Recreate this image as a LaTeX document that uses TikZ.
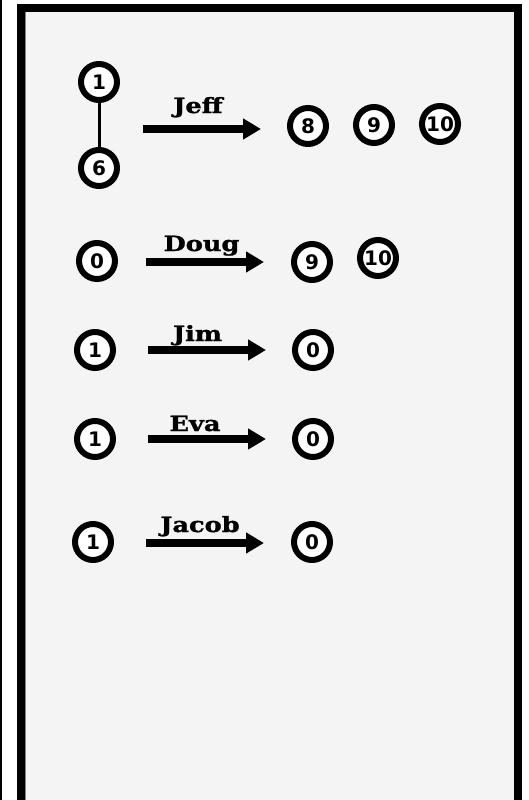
\documentclass[tikz,border=0pt]{standalone}
\usepackage{fontspec}
\usepackage{graphicx}
\usetikzlibrary{arrows.meta}
\newfontfamily\numfont{DejaVu Sans}
\newfontfamily\labfont{DejaVu Serif}[BoldFeatures={FakeBold=1.2}]
\definecolor{panel}{HTML}{F4F4F4}
\newcommand{\movetext}[1]{\scalebox{1.22}[1]{\labfont\bfseries\fontsize{21}{21}\selectfont #1}}
\tikzset{
  ball/.style={circle, draw=black, line width=6pt, fill=white, minimum size=36pt, inner sep=0pt, font=\numfont\bfseries\fontsize{20}{20}\selectfont},
  movearrow/.style={line width=7.5pt, -{Triangle[length=18pt,width=20pt]}},
  movelabel/.style={inner sep=0pt, anchor=base},
  tie/.style={line width=3pt}
}
\begin{document}
\begin{tikzpicture}[x=1pt,y=-1pt]
\useasboundingbox (0,0) rectangle (529,800);
\fill[white] (0,0) rectangle (529,800);
\draw[line width=2pt] (1,0) -- (1,800);
\draw[line width=8pt, fill=panel] (21,8) rectangle (518,812);
\draw[line width=0.8pt, gray] (25.4,12.4) -- (25.4,812);
% Row Jeff
\node[ball] (j1) at (99,82) {1};
\node[ball] (j6) at (99,168) {6};
\draw[tie] (j1) -- (j6);
\coordinate (js) at (143,129);
\coordinate (je) at (261,129);
\draw[movearrow] (js) -- (je);
\node[movelabel] (jl) at (198,113) {\movetext{Jeff}};
\node[ball] (j8) at (308,126) {8};
\node[ball] (j9) at (374,125) {9};
\node[ball] (j10) at (440,124) {10};
% Row Doug
\node[ball] (d0) at (97,261) {0};
\coordinate (ds) at (146,262);
\coordinate (de) at (264,262);
\draw[movearrow] (ds) -- (de);
\node[movelabel] (dl) at (201.5,251) {\movetext{Doug}};
\node[ball] (d9) at (312,262) {9};
\node[ball] (d10) at (378,258) {10};
% Row Jim
\node[ball] (m1) at (95,350) {1};
\coordinate (ms) at (148,350);
\coordinate (me) at (266,350);
\draw[movearrow] (ms) -- (me);
\node[movelabel] (ml) at (197.5,341) {\movetext{Jim}};
\node[ball] (m0) at (313,350) {0};
% Row Eva
\node[ball] (e1) at (95,439) {1};
\coordinate (es) at (148,439);
\coordinate (ee) at (266,439);
\draw[movearrow] (es) -- (ee);
\node[movelabel] (el) at (195,431) {\movetext{Eva}};
\node[ball] (e0) at (313,439) {0};
% Row Jacob
\node[ball] (c1) at (93,542) {1};
\coordinate (cs) at (146,543);
\coordinate (ce) at (264,543);
\draw[movearrow] (cs) -- (ce);
\node[movelabel] (cl) at (200,532) {\movetext{Jacob}};
\node[ball] (c0) at (312,542) {0};
\end{tikzpicture}
\end{document}
